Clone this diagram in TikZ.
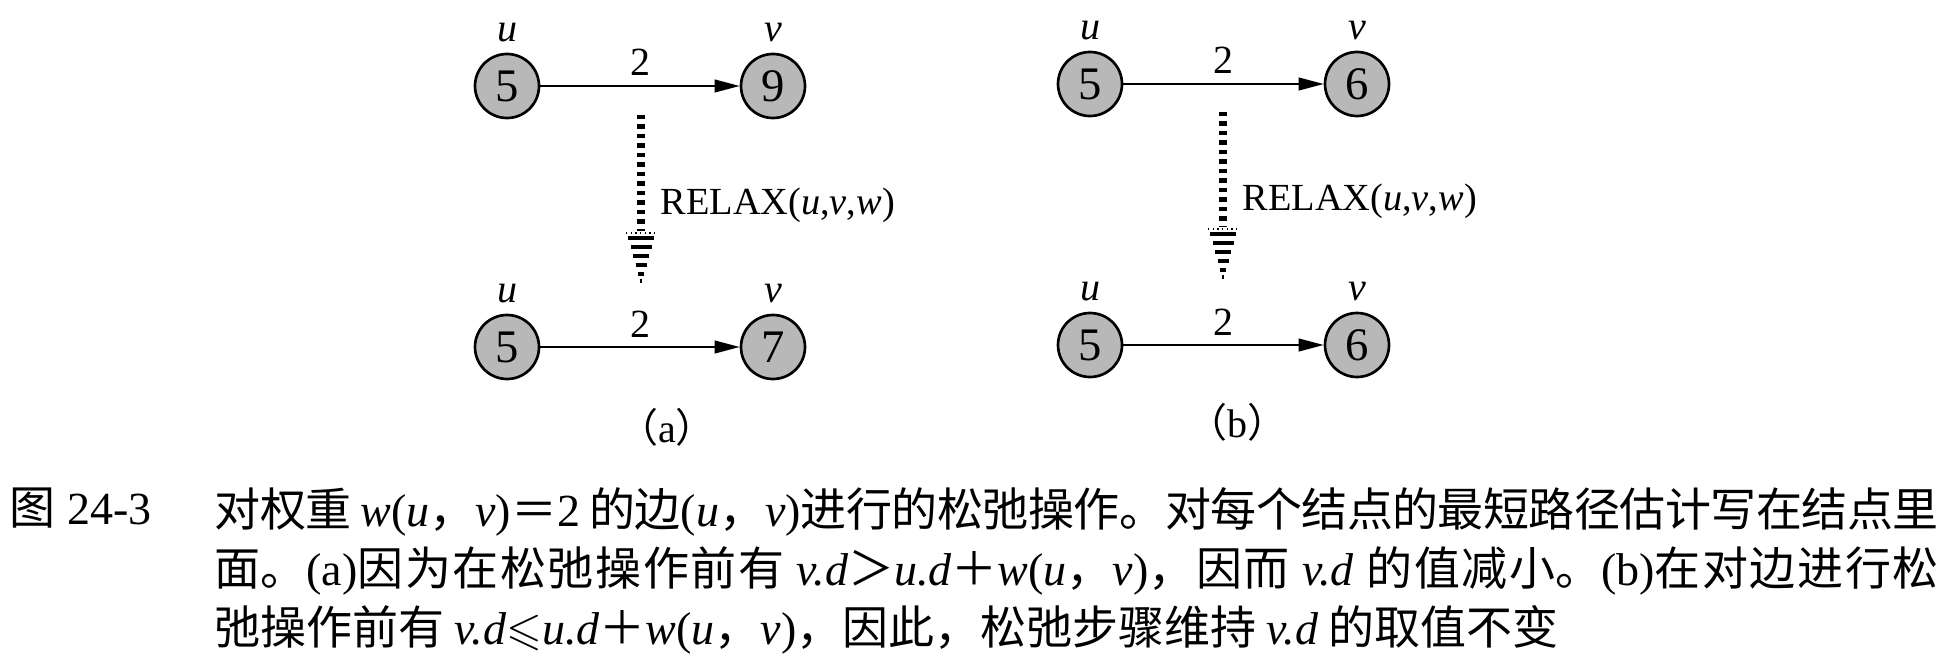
\documentclass[tikz,border=0pt]{standalone}
\usepackage{amssymb}
\usepackage{fontspec}
\setmainfont{Liberation Serif}
\newfontfamily\cjk{Noto Sans CJK SC}
\usetikzlibrary{calc}
\usetikzlibrary{arrows.meta}
\XeTeXlinebreaklocale "zh"
\XeTeXlinebreakskip = 0pt plus 1pt minus 0.4pt
\newcommand\uv{{\rmfamily(\textit{u}{\cjk ，}\textit{v})}}
\newcommand\wuv{{\rmfamily\itshape w}\uv}
\newcommand\vd{{\rmfamily\itshape v.d}}
\newcommand\ud{{\rmfamily\itshape u.d}}

\begin{document}
\begin{tikzpicture}[x=0.3pt, y=-0.3pt]

\tikzset{
    vertex/.style = {
    circle, draw, line width=0.8pt, fill=black!28,
    minimum size=19.2pt, inner sep=0pt,
    font=\fontsize{14}{14}\selectfont
    },
    tag/.style = {
    label={[inner sep=0pt, label distance=3pt, font=\fontsize{12}{12}\selectfont\itshape]above:#1}
    }
}

\tikzstyle{edge}=[-{Triangle[length=7.5pt,width=3.8pt]}, line width=0.6pt]
\tikzstyle{weight}=[above=2.7pt, inner sep=0pt, font=\fontsize{12}{12}\selectfont]
\tikzstyle{relax}=[line width=2.2pt, dash pattern=on 1.3pt off 1.55pt]
\tikzstyle{stripe}=[line width=1.4pt]
\tikzstyle{call}=[right, inner sep=0pt, font=\fontsize{11.5}{11.5}\selectfont]
\tikzstyle{panel}=[font=\fontsize{12}{12}\selectfont]
\tikzstyle{caption}=[anchor=north west, inner sep=0pt, font=\cjk\fontsize{13.8}{17.7}\selectfont]

\useasboundingbox (0,0) rectangle (1956,660);

% (a)
\node (a-u1) [vertex, tag=u] at (507,86) {5};
\node (a-v1) [vertex, tag=v] at (773,86) {9};
\node (a-u2) [vertex, tag=u] at (507,347) {5};
\node (a-v2) [vertex, tag=v] at (773,347) {7};
\draw [edge] (a-u1) -- node[weight] {2} (a-v1);
\draw [edge] (a-u2) -- node[weight] {2} (a-v2);

\coordinate (a-s) at (641,115);
\coordinate (a-t) at (641,283);
\draw [relax] (a-s) -- ($(a-t)+(0,-52)$);
\draw [line width=0.4pt, densely dotted] ($(a-t)+(-15,-50)$) -- ($(a-t)+(15,-50)$);
\foreach \d/\w in {45/13, 36/10.5, 27/8, 18/5.5, 9/3.2, 2/1.2}
    \draw [stripe] ($(a-t)+(-\w,-\d)$) -- ($(a-t)+(\w,-\d)$);
\node (a-call) [call] at ($(a-s)!0.5!(a-t)+(19,6)$) {RELAX(\textit{u},\textit{v},\textit{w})};
\node (a-name) [panel] at (667,427) {{\cjk （}a{\cjk ）}};

% (b)
\node (b-u1) [vertex, tag=u] at (1090,84) {5};
\node (b-v1) [vertex, tag=v] at (1357,84) {6};
\node (b-u2) [vertex, tag=u] at (1090,345) {5};
\node (b-v2) [vertex, tag=v] at (1357,345) {6};
\draw [edge] (b-u1) -- node[weight] {2} (b-v1);
\draw [edge] (b-u2) -- node[weight] {2} (b-v2);

\coordinate (b-s) at (1223,112);
\coordinate (b-t) at (1223,279);
\draw [relax] (b-s) -- ($(b-t)+(0,-52)$);
\draw [line width=0.4pt, densely dotted] ($(b-t)+(-15,-50)$) -- ($(b-t)+(15,-50)$);
\foreach \d/\w in {45/13, 36/10.5, 27/8, 18/5.5, 9/3.2, 2/1.2}
    \draw [stripe] ($(b-t)+(-\w,-\d)$) -- ($(b-t)+(\w,-\d)$);
\node (b-call) [call] at ($(b-s)!0.5!(b-t)+(19,6)$) {RELAX(\textit{u},\textit{v},\textit{w})};
\node (b-name) [panel] at (1237,422) {{\cjk （}b{\cjk ）}};

% caption
\node (cap-no) [caption] at (9,487) {图{\rmfamily\ 24-3}};
\node (cap) [caption, text width=517.2pt, align=justify] at (214,487)
    {对权重 \wuv＝{\rmfamily 2} 的边\uv 进行的松弛操作。对每个结点的最短路径估计写在结点里\linebreak
    面。{\rmfamily(a)}因为在松弛操作前有 \vd＞\ud＋\wuv，因而 \vd{} 的值减小。{\rmfamily(b)}在对边进行松\linebreak
    弛操作前有 \vd$\leqslant$\ud＋\wuv，因此，松弛步骤维持 \vd{} 的取值不变};

\end{tikzpicture}
\end{document}
